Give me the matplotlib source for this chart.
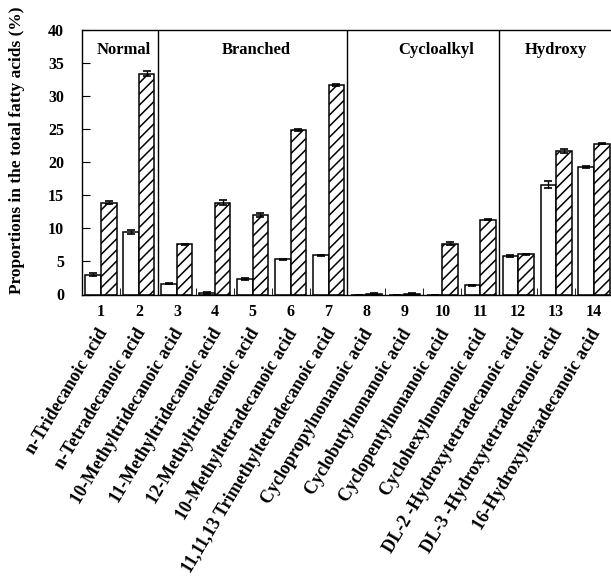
import matplotlib
matplotlib.use("Agg")
import matplotlib.pyplot as plt
import numpy as np

plt.rcParams['font.family'] = ['Liberation Serif', 'DejaVu Serif']
plt.rcParams['font.weight'] = 'bold'
plt.rcParams['hatch.linewidth'] = 1.1

numbers = [str(i) for i in range(1, 15)]
names = ["n-Tridecanoic acid", "n-Tetradecanoic acid", "10-Methyltridecanoic acid",
         "11-Methyltridecanoic acid", "12-Methyltridecanoic acid",
         "10-Methyltetradecanoic acid", "11,11,13 Trimethyltetradecanoic acid",
         "Cyclopropylnonanoic acid", "Cyclobutylnonanoic acid",
         "Cyclopentylnonanoic acid", "Cyclohexylnonanoic acid",
         "DL-2 -Hydroxytetradecanoic acid", "DL-3 -Hydroxytetradecanoic acid",
         "16-Hydroxyhexadecanoic acid"]
open_vals = [3.0, 9.5, 1.65, 0.25, 2.3, 5.3, 5.9, 0.0, 0.0, 0.0, 1.4, 5.8, 16.6, 19.3]
open_err = [0.2, 0.3, 0.1, 0.1, 0.15, 0.1, 0.1, 0.0, 0.0, 0.0, 0.1, 0.1, 0.5, 0.1]
hatch_vals = [13.9, 33.4, 7.6, 13.9, 12.0, 24.9, 31.7, 0.1, 0.1, 7.7, 11.3, 6.1, 21.7, 22.8]
hatch_err = [0.2, 0.35, 0.1, 0.35, 0.25, 0.2, 0.1, 0.1, 0.1, 0.25, 0.1, 0.1, 0.3, 0.1]
groups = ["Normal", "Branched", "Cycloalkyl", "Hydroxy"]
group_label_x = [1.6, 5.1, 9.85, 13.0]
group_dividers = [2.5, 7.5, 11.5]

fig = plt.figure(figsize=(6.11, 5.82), dpi=100)
ax = fig.add_axes([82/611, 1-294.5/582, (613-82)/611, (294.5-30)/582])

x = np.arange(1, 15)
w = 0.41
ax.bar(x - w/2, open_vals, w, color='white', edgecolor='black', linewidth=1.1,
       yerr=open_err, capsize=3, error_kw=dict(elinewidth=1.0, capthick=1.2, ecolor='black'))
ax.bar(x + w/2, hatch_vals, w, color='white', edgecolor='black', linewidth=1.1, hatch='///',
       yerr=hatch_err, capsize=3, error_kw=dict(elinewidth=1.0, capthick=1.2, ecolor='black'))

for d in group_dividers:
    ax.axvline(d, color='black', linewidth=1.0)
for g, gx in zip(groups, group_label_x):
    ax.text(gx, 37.05, g, ha='center', va='center', fontsize=12, fontweight='bold')

ax.set_xlim(0.5, 14.5)
ax.set_ylim(0, 40)
ax.set_yticks(np.arange(0, 41, 5))
ax.tick_params(axis='y', direction='in', length=6, labelsize=11.5, pad=13)
ax.set_xticks(x)
ax.set_xticklabels(numbers, fontsize=11.5, fontweight='bold')
ax.set_xticks(np.arange(1.5, 14, 1), minor=True)
ax.tick_params(axis='x', which='major', length=0, pad=6.5)
ax.tick_params(axis='x', which='minor', direction='in', length=5)
ax.spines['right'].set_visible(False)
for s in ['left', 'bottom', 'top']:
    ax.spines[s].set_linewidth(1.0)

for xi, nm in zip(x, names):
    ax.annotate(nm, xy=(xi, 0), xycoords=('data', 'axes fraction'),
                xytext=(-3, -22.5), textcoords='offset points',
                rotation=59, rotation_mode='anchor', ha='right', va='top',
                fontsize=13, fontweight='bold')

fig.text(17/611, 1-150/582, "Proportions in the total fatty acids (%)", rotation=90,
         ha='center', va='center', fontsize=12.5, fontweight='bold')

fig.savefig("out.png", dpi=100)
